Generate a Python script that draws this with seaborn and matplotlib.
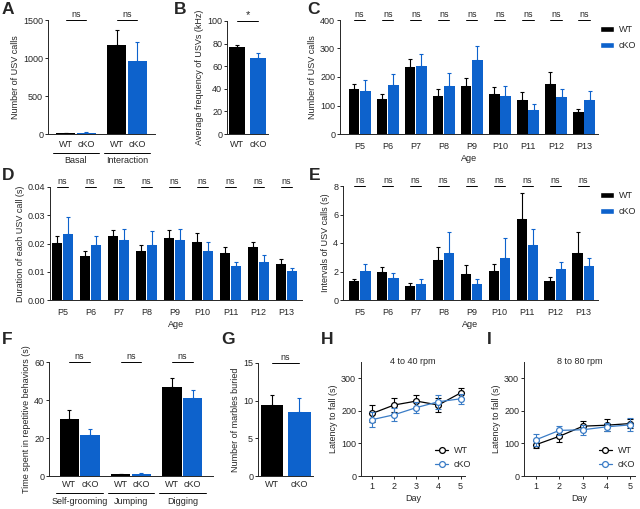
import numpy as np
import pandas as pd
import matplotlib
matplotlib.use('Agg')
import matplotlib.pyplot as plt
from matplotlib.patches import Patch
from matplotlib.lines import Line2D
import seaborn as sns

sns.set_style('ticks')
plt.rcParams['font.family'] = ['Liberation Sans', 'DejaVu Sans']
plt.rcParams['font.size'] = 6.5
plt.rcParams['axes.linewidth'] = 0.7
plt.rcParams['xtick.major.width'] = 0.7
plt.rcParams['ytick.major.width'] = 0.7
plt.rcParams['xtick.major.size'] = 2
plt.rcParams['ytick.major.size'] = 2
plt.rcParams['xtick.major.pad'] = 2.5
plt.rcParams['ytick.major.pad'] = 1.5
plt.rcParams['axes.labelpad'] = 2

FS = 6.5
genotypes = ['WT', 'cKO']
colors = {'WT': 'black', 'cKO': '#0d62cc'}

# A - USV calls, basal vs interaction
a_groups = ['Basal', 'Interaction']
a_wt = [10, 1170]
a_wt_err = [3, 200]
a_cko = [15, 965]
a_cko_err = [5, 245]

# B - average frequency
b_mean = [77, 67]
b_err = [1.5, 4.5]

ages = ['P5', 'P6', 'P7', 'P8', 'P9', 'P10', 'P11', 'P12', 'P13']

# C - number of USV calls by age
c_wt = [157, 122, 236, 135, 167, 141, 119, 175, 76]
c_wt_err = [18, 18, 28, 24, 28, 23, 29, 42, 11]
c_cko = [150, 172, 237, 168, 261, 135, 84, 129, 121]
c_cko_err = [38, 38, 45, 45, 48, 33, 23, 30, 29]

# D - duration of each call
d_wt = [0.0201, 0.0157, 0.0226, 0.0175, 0.0221, 0.0206, 0.0166, 0.0188, 0.0128]
d_wt_err = [0.0024, 0.0018, 0.0023, 0.0018, 0.0026, 0.0030, 0.0022, 0.0018, 0.0017]
d_cko = [0.0235, 0.0195, 0.0212, 0.0194, 0.0212, 0.0172, 0.0120, 0.0136, 0.0104]
d_cko_err = [0.0060, 0.0030, 0.0040, 0.0052, 0.0040, 0.0035, 0.0014, 0.0022, 0.0010]

# E - intervals of calls
e_wt = [1.3, 2.0, 1.0, 2.8, 1.85, 2.05, 5.65, 1.3, 3.3]
e_wt_err = [0.2, 0.3, 0.2, 0.9, 0.6, 0.5, 1.85, 0.3, 1.5]
e_cko = [2.05, 1.55, 1.1, 3.3, 1.1, 2.95, 3.85, 2.2, 2.4]
e_cko_err = [0.45, 0.35, 0.35, 1.5, 0.35, 1.4, 1.1, 0.5, 0.55]

# F - repetitive behaviours
f_groups = ['Self-grooming', 'Jumping', 'Digging']
f_wt = [30, 0.8, 47]
f_wt_err = [5, 0.2, 4.5]
f_cko = [21.5, 1.3, 41]
f_cko_err = [3, 0.5, 4.5]

# G - marbles buried
g_mean = [9.4, 8.5]
g_err = [1.3, 1.8]

# H / I - rotarod
days = [1, 2, 3, 4, 5]
h_wt = [192, 218, 230, 218, 255]
h_wt_err = [25, 20, 20, 20, 15]
h_cko = [173, 188, 210, 228, 237]
h_cko_err = [22, 20, 18, 22, 15]
i_wt = [96, 122, 153, 156, 161]
i_wt_err = [10, 17, 15, 18, 15]
i_cko = [111, 140, 142, 151, 157]
i_cko_err = [18, 15, 15, 12, 20]

W, H = 640, 509
fig = plt.figure(figsize=(W / 100, H / 100), dpi=100)


def box(l, r, t, b):
    return [l / W, 1 - b / H, (r - l) / W, (b - t) / H]


def letter(x, y, s):
    fig.text(x / W, 1 - y / H, s, fontsize=12.5, fontweight='bold', va='center', ha='left')


def style(ax, pad=2.5):
    sns.despine(ax=ax)
    ax.tick_params(axis='x', length=0, pad=pad)


def sig(ax, x1, x2, y, text='ns', size=FS):
    ax.plot([x1, x2], [y, y], color='black', lw=0.7, clip_on=False)
    ax.annotate(text, ((x1 + x2) / 2, y), xytext=(0, 1), textcoords='offset points',
                ha='center', va='bottom', fontsize=size, annotation_clip=False)


def upper_err(ax, xs, vals, errs, color):
    ax.errorbar(xs, vals, yerr=[np.zeros(len(vals)), errs], fmt='none', ecolor=color,
                elinewidth=0.8, capsize=1.5, capthick=0.8)


def grouped_bars(ax, cats, wt, wt_err, cko, cko_err):
    df = pd.DataFrame({'cat': cats * 2,
                       'geno': ['WT'] * len(cats) + ['cKO'] * len(cats),
                       'val': wt + cko})
    sns.barplot(data=df, x='cat', y='val', hue='geno', hue_order=genotypes, palette=colors,
                saturation=1, errorbar=None, width=0.8, gap=0.06, linewidth=0,
                legend=False, ax=ax)
    centers = []
    for container, g, vals, errs in zip(ax.containers, genotypes, [wt, cko], [wt_err, cko_err]):
        xs = [p.get_x() + p.get_width() / 2 for p in container]
        upper_err(ax, xs, vals, errs, colors[g])
        centers.append(xs)
    return centers


def two_bars(ax, vals, errs):
    df = pd.DataFrame({'geno': genotypes, 'val': vals})
    sns.barplot(data=df, x='geno', y='val', hue='geno', palette=colors, saturation=1,
                errorbar=None, width=0.8, linewidth=0, legend=False, ax=ax)
    xs = [c[0].get_x() + c[0].get_width() / 2 for c in ax.containers]
    for x, v, e, g in zip(xs, vals, errs, genotypes):
        upper_err(ax, [x], [v], [e], colors[g])
    return xs


def group_labels(ax, centers, groups, height_px, line_px, text_px, half=0.45):
    tr = ax.get_xaxis_transform()
    for (x1, x2), name in zip(zip(*centers), groups):
        mid = (x1 + x2) / 2
        ax.plot([mid - half, mid + half], [-line_px / height_px] * 2, color='black', lw=0.7,
                transform=tr, clip_on=False)
        ax.text(mid, -text_px / height_px, name, transform=tr, ha='center', va='top',
                fontsize=FS)


def bar_legend(ax):
    handles = [Patch(facecolor=colors[g], label=g) for g in genotypes]
    ax.legend(handles=handles, loc='upper left', bbox_to_anchor=(1.0, 0.97), frameon=False,
              fontsize=FS, handlelength=1.6, handleheight=0.6, handletextpad=0.5,
              borderpad=0.2, borderaxespad=0, labelspacing=0.8)


# ---- A ----
ax = fig.add_axes(box(48, 155, 20, 134))
cen = grouped_bars(ax, a_groups, a_wt, a_wt_err, a_cko, a_cko_err)
ax.set_ylim(0, 1500)
ax.set_yticks([0, 500, 1000, 1500])
ax.set_xticks(sorted(cen[0] + cen[1]))
ax.set_xticklabels(['WT', 'cKO'] * 2)
ax.set_xlabel('')
ax.set_ylabel('Number of USV calls')
style(ax, pad=4)
for x1, x2 in zip(*cen):
    sig(ax, x1, x2, 1500)
group_labels(ax, cen, a_groups, 114, 19, 22)
letter(2, 10, 'A')

# ---- B ----
ax = fig.add_axes(box(227, 268, 21, 134))
xs = two_bars(ax, b_mean, b_err)
ax.set_ylim(0, 100)
ax.set_xlabel('')
ax.set_ylabel('Average frequency of USVs (kHz)')
style(ax, pad=4)
sig(ax, xs[0], xs[1], 100, '*', size=8)
letter(174, 10, 'B')

# ---- C ----
ax = fig.add_axes(box(340, 598, 20, 134))
cen = grouped_bars(ax, ages, c_wt, c_wt_err, c_cko, c_cko_err)
ax.set_ylim(0, 400)
ax.set_xlim(-0.7, 8.5)
ax.set_xlabel('Age')
ax.set_ylabel('Number of USV calls')
style(ax, pad=6)
for x1, x2 in zip(*cen):
    sig(ax, x1, x2, 400)
bar_legend(ax)
letter(307, 10, 'C')

# ---- D ----
ax = fig.add_axes(box(50, 302, 187, 300))
cen = grouped_bars(ax, ages, d_wt, d_wt_err, d_cko, d_cko_err)
ax.set_ylim(0, 0.04)
ax.set_xlim(-0.45, 8.55)
ax.set_yticks([0, 0.01, 0.02, 0.03, 0.04])
ax.set_yticklabels(['0.00', '0.01', '0.02', '0.03', '0.04'])
ax.set_xlabel('Age')
ax.set_ylabel('Duration of each USV call (s)')
style(ax, pad=6)
for x1, x2 in zip(*cen):
    sig(ax, x1, x2, 0.04)
letter(2, 175, 'D')

# ---- E ----
ax = fig.add_axes(box(343, 598, 186, 300))
cen = grouped_bars(ax, ages, e_wt, e_wt_err, e_cko, e_cko_err)
ax.set_ylim(0, 8)
ax.set_xlim(-0.6, 8.53)
ax.set_yticks([0, 2, 4, 6, 8])
ax.set_xlabel('Age')
ax.set_ylabel('Intervals of USV calls (s)')
style(ax, pad=6)
for x1, x2 in zip(*cen):
    sig(ax, x1, x2, 8)
bar_legend(ax)
letter(309, 175, 'E')

# ---- F ----
ax = fig.add_axes(box(49, 213, 362, 476))
cen = grouped_bars(ax, f_groups, f_wt, f_wt_err, f_cko, f_cko_err)
ax.set_ylim(0, 60)
ax.set_yticks([0, 20, 40, 60])
ax.set_xticks(sorted(cen[0] + cen[1]))
ax.set_xticklabels(['WT', 'cKO'] * 3)
ax.set_xlabel('')
ax.set_ylabel('Time spent in repetitive behaviors (s)')
style(ax, pad=3)
for x1, x2 in zip(*cen):
    sig(ax, x1, x2, 60)
group_labels(ax, cen, f_groups, 114, 17, 21)
letter(2, 340, 'F')

# ---- G ----
ax = fig.add_axes(box(258, 313, 363, 476))
xs = two_bars(ax, g_mean, g_err)
ax.set_ylim(0, 15)
ax.set_yticks([0, 5, 10, 15])
ax.set_xlabel('')
ax.set_ylabel('Number of marbles buried')
style(ax, pad=3)
sig(ax, xs[0], xs[1], 15)
letter(221, 340, 'G')


# ---- H / I ----
def rotarod(ax, wt, wt_err, cko, cko_err, title, leg_x):
    line_colors = {'WT': 'black', 'cKO': '#3a7cc6'}
    for g, vals, errs in zip(genotypes, [wt, cko], [wt_err, cko_err]):
        c = line_colors[g]
        ax.errorbar(days, vals, yerr=errs, fmt='none', ecolor=c, elinewidth=0.8,
                    capsize=2, capthick=0.8)
        sns.lineplot(x=days, y=vals, color=c, marker='o', markersize=4.2, mfc='white',
                     mec=c, mew=0.9, lw=0.9, ax=ax)
    ax.set_ylim(0, 350)
    ax.set_xlim(0.5, 5.2)
    ax.set_yticks([0, 100, 200, 300])
    ax.set_xticks(days)
    ax.set_xlabel('Day')
    ax.set_ylabel('Latency to fall (s)')
    sns.despine(ax=ax)
    ax.text(0.5, 1.0, title, transform=ax.transAxes, ha='center', va='center', fontsize=FS)
    hl = [Line2D([], [], color=line_colors[g], marker='o', mfc='white', mec=line_colors[g],
                 markersize=4.2, mew=0.9, lw=0.9, label=g) for g in genotypes]
    ax.legend(handles=hl, loc='lower right', bbox_to_anchor=(leg_x, 0.06), frameon=False,
              fontsize=FS, handlelength=1.5, handletextpad=0.6, labelspacing=0.6,
              borderaxespad=0, borderpad=0)


ax = fig.add_axes(box(361, 465, 362, 476))
rotarod(ax, h_wt, h_wt_err, h_cko, h_cko_err, '4 to 40 rpm', 1.06)
letter(321, 340, 'H')

ax = fig.add_axes(box(524, 635, 362, 476))
rotarod(ax, i_wt, i_wt_err, i_cko, i_cko_err, '8 to 80 rpm', 1.0)
letter(487, 340, 'I')

fig.savefig('out.png', dpi=100)
